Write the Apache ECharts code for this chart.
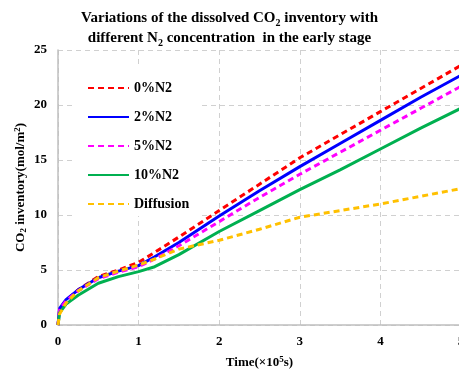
<!DOCTYPE html>
<html lang="en">
<head>
    <meta charset="UTF-8">
    <title>CO2 inventory</title>
    <style>
        html, body { margin: 0; padding: 0; background: #fff; }
    </style>
</head>
<body>
    <div id="main" style="width:459px;height:371px;"></div>

    <script src="https://cdn.jsdelivr.net/npm/echarts@6/dist/echarts.min.js"></script>
    <script>
// time, x10^5 s
var times = [0, 0.02, 0.1, 0.25, 0.5, 0.75, 1, 1.2, 1.5, 2, 2.5, 3, 3.5, 4, 4.5, 5];

var n2_0   = [0, 1.4, 2.2, 3.2, 4.4, 5.0, 5.7, 6.6, 8.0, 10.4, 12.8, 15.2, 17.3, 19.4, 21.5, 23.6];
var n2_2   = [0, 1.5, 2.3, 3.2, 4.3, 4.9, 5.4, 6.2, 7.5, 9.9, 12.2, 14.4, 16.5, 18.6, 20.7, 22.7];
var n2_5   = [0, 1.4, 2.2, 3.1, 4.2, 4.8, 5.3, 6.0, 7.2, 9.4, 11.6, 13.7, 15.7, 17.7, 19.7, 21.7];
var n2_10  = [0, 1.1, 1.9, 2.7, 3.8, 4.4, 4.85, 5.3, 6.4, 8.5, 10.4, 12.3, 14.1, 16.0, 17.9, 19.7];
var diffusion = [0, 1.0, 2.0, 3.1, 4.3, 4.9, 5.45, 6.0, 6.9, 7.7, 8.7, 9.8, 10.4, 11.0, 11.7, 12.4];

var names = ['0%N2', '2%N2', '5%N2', '10%N2', 'Diffusion'];

var font = '"Liberation Serif", "Times New Roman", serif';

function pairs(vals) {
    return times.map(function (t, i) { return [t, vals[i]]; });
}

function line(name, vals, color, type) {
    return {
        name: name,
        type: 'line',
        data: pairs(vals),
        smooth: false,
        symbol: 'none',
        showSymbol: false,
        lineStyle: { color: color, width: 3, type: type },
        itemStyle: { color: color }
    };
}

var chart = echarts.init(document.getElementById('main'));

chart.setOption({
    animation: false,
    title: {
        text: 'Variations of the dissolved CO{s|2} inventory with\ndifferent N{s|2} concentration  in the early stage',
        left: 'center',
        top: 3,
        textStyle: {
            fontFamily: font,
            fontWeight: 'bold',
            fontSize: 15,
            color: '#000',
            lineHeight: 20,
            rich: {
                s: { fontFamily: font, fontWeight: 'bold', fontSize: 10, verticalAlign: 'bottom', padding: [6, 0, 0, 0] }
            }
        }
    },
    legend: {
        orient: 'vertical',
        left: 75,
        top: 64,
        padding: [17, 10, 5, 12],
        backgroundColor: '#fff',
        itemWidth: 41,
        itemHeight: 14,
        itemGap: 15,
        itemStyle: { opacity: 0 },
        data: names,
        textStyle: { fontFamily: font, fontWeight: 'bold', fontSize: 14, color: '#000' }
    },
    grid: { left: 58, right: -2, top: 50, bottom: 46, outerBoundsMode: 'none' },
    xAxis: {
        type: 'value',
        min: 0, max: 5, interval: 1,
        name: 'Time(\u00D710{p|5}s)',
        nameLocation: 'middle',
        nameGap: 30,
        nameMoveOverlap: false,
        nameTextStyle: {
            fontFamily: font, fontWeight: 'bold', fontSize: 13, color: '#000',
            rich: { p: { fontFamily: font, fontWeight: 'bold', fontSize: 9, verticalAlign: 'top', padding: [0, 0, 6, 0] } }
        },
        axisLine: { lineStyle: { color: '#bfbfbf', width: 1.5 } },
        axisTick: { show: false },
        axisLabel: { fontFamily: font, fontWeight: 'bold', fontSize: 13, color: '#000', margin: 10 },
        splitLine: { show: true, lineStyle: { color: '#d0d0d0', type: [5, 4] } }
    },
    yAxis: {
        type: 'value',
        min: 0, max: 25, interval: 5,
        name: 'CO{s|2} inventory(mol/m{p|2})',
        nameLocation: 'middle',
        nameGap: 30,
        nameMoveOverlap: false,
        nameTextStyle: {
            fontFamily: font, fontWeight: 'bold', fontSize: 13, color: '#000',
            rich: {
                s: { fontFamily: font, fontWeight: 'bold', fontSize: 9, verticalAlign: 'bottom', padding: [6, 0, 0, 0] },
                p: { fontFamily: font, fontWeight: 'bold', fontSize: 9, verticalAlign: 'top', padding: [0, 0, 6, 0] }
            }
        },
        axisLine: { show: true, lineStyle: { color: '#bfbfbf', width: 1.5 } },
        axisTick: { show: false },
        axisLabel: { fontFamily: font, fontWeight: 'bold', fontSize: 13, color: '#000', margin: 11 },
        splitLine: { show: true, lineStyle: { color: '#d0d0d0', type: [5, 4] } }
    },
    series: [
        line(names[0], n2_0, '#ff0000', [6, 4]),
        line(names[1], n2_2, '#0000ff', 'solid'),
        line(names[2], n2_5, '#ff00ff', [6, 4]),
        line(names[3], n2_10, '#00b050', 'solid'),
        line(names[4], diffusion, '#ffc000', [6, 4])
    ]
});
    </script>
</body>
</html>
